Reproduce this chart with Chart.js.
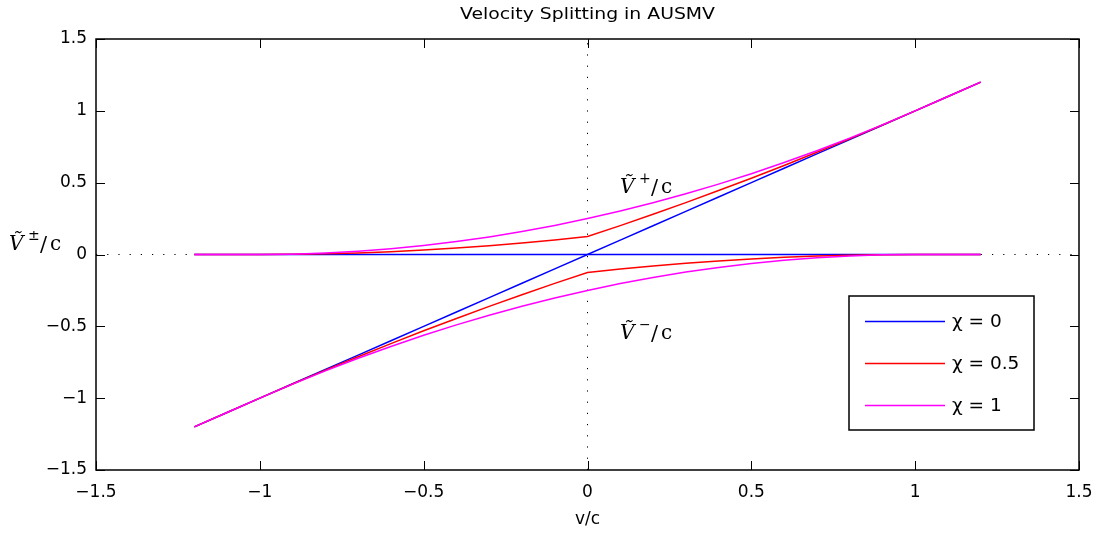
<!DOCTYPE html>
<html><head><meta charset="utf-8">
<script src="https://cdn.jsdelivr.net/npm/chart.js@4"></script>
<style>html,body{margin:0;padding:0;background:#fff}#wrap{width:1102px;height:533px}</style>
</head><body><div id="wrap"><canvas id="c" width="1102" height="533"></canvas></div>
<script>
// ---- data ----
const vOverC = [-1.2,-1.1,-1.0,-0.9,-0.8,-0.7,-0.6,-0.5,-0.4,-0.3,-0.2,-0.1,0,0.1,0.2,0.3,0.4,0.5,0.6,0.7,0.8,0.9,1.0,1.1,1.2];
const vPlusChi0   = [0,0,0,0,0,0,0,0,0,0,0,0,0,0.1,0.2,0.3,0.4,0.5,0.6,0.7,0.8,0.9,1.0,1.1,1.2];
const vMinusChi0  = [-1.2,-1.1,-1.0,-0.9,-0.8,-0.7,-0.6,-0.5,-0.4,-0.3,-0.2,-0.1,0,0,0,0,0,0,0,0,0,0,0,0,0];
const vPlusChi05  = [0,0,0,0.00125,0.005,0.01125,0.02,0.03125,0.045,0.06125,0.08,0.10125,0.125,0.20125,0.28,0.36125,0.445,0.53125,0.62,0.71125,0.805,0.90125,1.0,1.1,1.2];
const vMinusChi05 = [-1.2,-1.1,-1.0,-0.90125,-0.805,-0.71125,-0.62,-0.53125,-0.445,-0.36125,-0.28,-0.20125,-0.125,-0.10125,-0.08,-0.06125,-0.045,-0.03125,-0.02,-0.01125,-0.005,-0.00125,0,0,0];
const vPlusChi1   = [0,0,0,0.0025,0.01,0.0225,0.04,0.0625,0.09,0.1225,0.16,0.2025,0.25,0.3025,0.36,0.4225,0.49,0.5625,0.64,0.7225,0.81,0.9025,1.0,1.1,1.2];
const vMinusChi1  = [-1.2,-1.1,-1.0,-0.9025,-0.81,-0.7225,-0.64,-0.5625,-0.49,-0.4225,-0.36,-0.3025,-0.25,-0.2025,-0.16,-0.1225,-0.09,-0.0625,-0.04,-0.0225,-0.01,-0.0025,0,0,0];
const refLineRange = [-1.5, 1.5];
const seriesNames = ['\u03C7 = 0', '\u03C7 = 0.5', '\u03C7 = 1'];
const seriesColors = ['#0000ff', '#ff0000', '#ff00ff'];
const axisMin = -1.5, axisMax = 1.5, axisStep = 0.5;
const titleText = 'Velocity Splitting in AUSMV';
const xTitle = 'v/c';

function pts(xs, ys){ return xs.map((x,i)=>({x:x, y:ys[i]})); }

const SANS = '"DejaVu Sans", sans-serif';
const SERIF = '"DejaVu Serif", serif';

function texV(ctx, x, baseline, sup){
  ctx.save();
  ctx.fillStyle = '#000';
  ctx.textAlign = 'left';
  ctx.textBaseline = 'alphabetic';
  ctx.font = 'italic 20px ' + SERIF;
  ctx.fillText('V\u0303', x, baseline);
  ctx.font = '14px ' + SERIF;
  ctx.fillText(sup, x + 19, baseline - 10);
  ctx.font = '21px ' + SERIF;
  ctx.fillText('/', x + 31, baseline + 1);
  ctx.font = '20px ' + SERIF;
  ctx.fillText('c', x + 41, baseline);
  ctx.restore();
}

const decor = {
  id: 'decor',
  afterDatasetsDraw(chart){
    const ctx = chart.ctx, a = chart.chartArea;
    const xs = chart.scales.x, ys = chart.scales.y;
    ctx.save();
    ctx.strokeStyle = '#000';
    ctx.lineWidth = 1;
    ctx.beginPath();
    xs.ticks.forEach(t => {
      const px = Math.round(xs.getPixelForValue(t.value)) + 0.5;
      ctx.moveTo(px, a.bottom); ctx.lineTo(px, a.bottom - 9);
      ctx.moveTo(px, a.top); ctx.lineTo(px, a.top + 9);
    });
    ys.ticks.forEach(t => {
      const py = Math.round(ys.getPixelForValue(t.value)) + 0.5;
      ctx.moveTo(a.left, py); ctx.lineTo(a.left + 9, py);
      ctx.moveTo(a.right, py); ctx.lineTo(a.right - 9, py);
    });
    ctx.stroke();
    ctx.lineWidth = 1.5;
    ctx.strokeRect(a.left, a.top, a.right - a.left, a.bottom - a.top);
    ctx.restore();
  },
  afterDraw(chart){
    const ctx = chart.ctx, a = chart.chartArea;
    ctx.save();
    ctx.fillStyle = '#000';
    ctx.font = '15px ' + SANS;
    ctx.textBaseline = 'alphabetic';
    ctx.textAlign = 'center';
    const cx = (a.left + a.right) / 2;
    const tw = ctx.measureText(titleText).width;
    ctx.save();
    ctx.translate(cx, 19);
    ctx.scale(255 / tw, 1);
    ctx.fillText(titleText, 0, 0);
    ctx.restore();
    ctx.font = '17px ' + SANS;
    ctx.fillText(xTitle, cx, 524);
    ctx.restore();
    texV(ctx, 9, 250, '\u00B1');
    texV(ctx, 620, 193, '+');
    texV(ctx, 620, 339, '\u2212');
    // legend
    ctx.save();
    const lx = 849, ly = 296, lw = 185, lh = 134;
    ctx.fillStyle = '#fff';
    ctx.fillRect(lx, ly, lw, lh);
    ctx.strokeStyle = '#000';
    ctx.lineWidth = 1.5;
    ctx.strokeRect(lx, ly, lw, lh);
    const rows = [321, 363, 405];
    ctx.font = '18.5px ' + SANS;
    ctx.textAlign = 'left';
    ctx.textBaseline = 'middle';
    seriesNames.forEach((n, i) => {
      ctx.strokeStyle = seriesColors[i];
      ctx.lineWidth = 1.4;
      ctx.beginPath();
      ctx.moveTo(865, rows[i] + 0.5); ctx.lineTo(945, rows[i] + 0.5);
      ctx.stroke();
      ctx.fillStyle = '#000';
      ctx.fillText(n, 952, rows[i] + 1);
    });
    ctx.restore();
  }
};

const lineDs = (data, color, order) => ({
  data, borderColor: color, borderWidth: 1.5, pointRadius: 0, tension: 0,
  fill: false, order
});

const dotted = (data) => ({
  data, borderColor: '#000', borderWidth: 1, pointRadius: 0, borderDash: [1.2, 10],
  fill: false, order: 10
});

const chart = new Chart(document.getElementById('c'), {
  type: 'line',
  data: {
    datasets: [
      dotted(pts(refLineRange, [0, 0])),
      dotted(pts([0, 0], refLineRange)),
      lineDs(pts(vOverC, vPlusChi0), seriesColors[0], 3),
      lineDs(pts(vOverC, vMinusChi0), seriesColors[0], 3),
      lineDs(pts(vOverC, vPlusChi05), seriesColors[1], 2),
      lineDs(pts(vOverC, vMinusChi05), seriesColors[1], 2),
      lineDs(pts(vOverC, vPlusChi1), seriesColors[2], 1),
      lineDs(pts(vOverC, vMinusChi1), seriesColors[2], 1)
    ]
  },
  options: {
    responsive: false,
    animation: false,
    devicePixelRatio: 1,
    layout: { padding: { left: 0, top: 39, right: 23, bottom: 0 } },
    plugins: { legend: { display: false }, tooltip: { enabled: false }, title: { display: false } },
    scales: {
      x: {
        type: 'linear', min: axisMin, max: axisMax,
        grid: { display: false, drawTicks: false },
        border: { display: false },
        ticks: {
          stepSize: axisStep, padding: 12, color: '#000', maxRotation: 0,
          font: { family: 'DejaVu Sans', size: 17 },
          callback: v => String(v).replace('-', '\u2212')
        },
        afterFit: s => { s.height = 63; s.paddingLeft = 0; s.paddingRight = 0; }
      },
      y: {
        type: 'linear', min: axisMin, max: axisMax,
        grid: { display: false, drawTicks: false },
        border: { display: false },
        ticks: {
          stepSize: axisStep, padding: 9, color: '#000',
          font: { family: 'DejaVu Sans', size: 17 },
          callback: v => String(v).replace('-', '\u2212')
        },
        afterFit: s => { s.width = 96; s.paddingTop = 0; s.paddingBottom = 0; }
      }
    }
  },
  plugins: [decor]
});
</script>
</body></html>
